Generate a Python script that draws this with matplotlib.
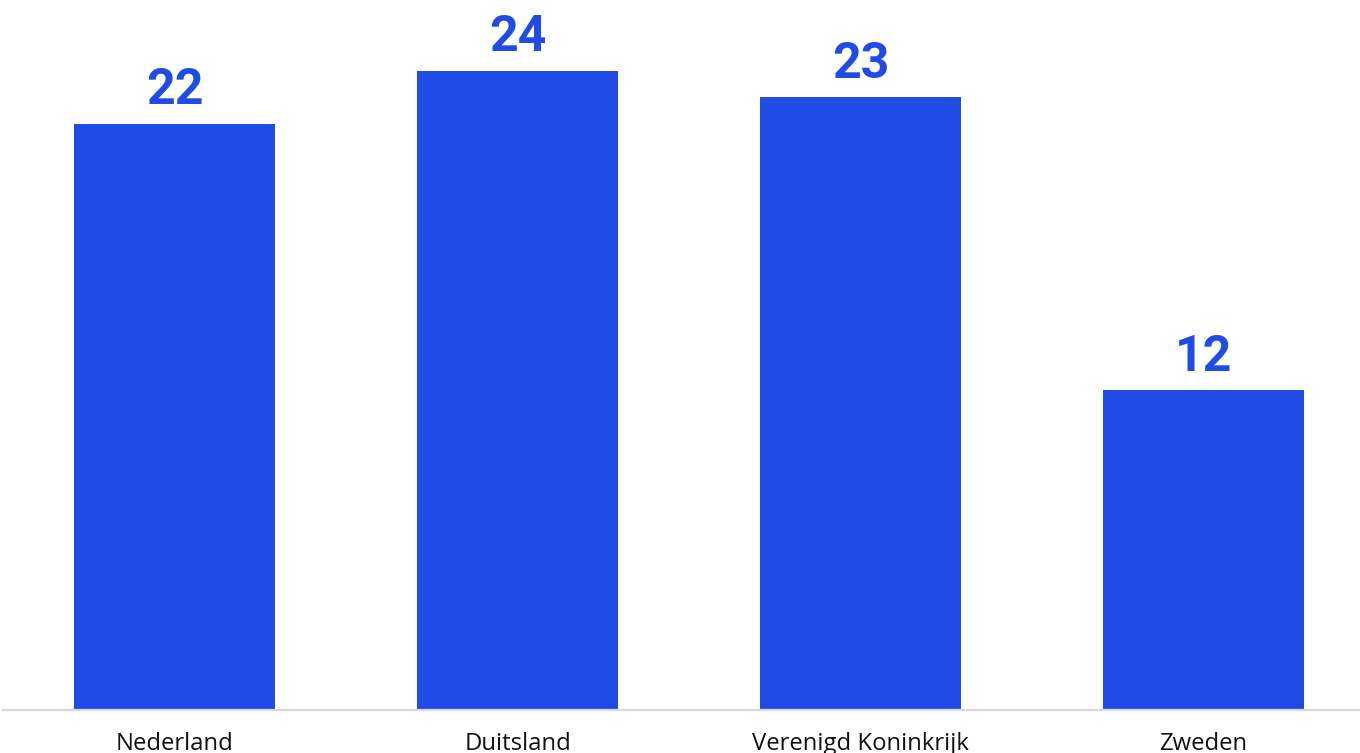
import matplotlib
matplotlib.use("Agg")
import matplotlib.pyplot as plt

categories = ["Nederland", "Duitsland", "Verenigd Koninkrijk", "Zweden"]
values = [22, 24, 23, 12]

bar_color = "#204ce5"

fig = plt.figure(figsize=(13.6, 7.53), dpi=100)
ax = fig.add_axes([3 / 1360, 43 / 753, 1 - 3 / 1360, 1 - 43 / 753])

x = list(range(len(categories)))
ax.bar(x, values, width=0.586, color=bar_color, zorder=2)
ax.set_xlim(-0.5015, 3.456)
ax.set_ylim(0, 26.65)

for xi, v in zip(x, values):
    ax.annotate(str(v), (xi, v), xytext=(0, 14), textcoords="offset points",
                ha="center", va="baseline", fontsize=36, fontweight="bold",
                color=bar_color, family="Roboto")

ax.set_xticks(x)
ax.set_xticklabels(categories, fontsize=17.2, family="Open Sans", color="#111111")
ax.tick_params(axis="x", length=0, pad=16)
ax.set_yticks([])
for s in ["top", "right", "left"]:
    ax.spines[s].set_visible(False)
ax.spines["bottom"].set_color("#d9d9d9")
ax.spines["bottom"].set_linewidth(1.6)

fig.savefig("out.png", dpi=100)
